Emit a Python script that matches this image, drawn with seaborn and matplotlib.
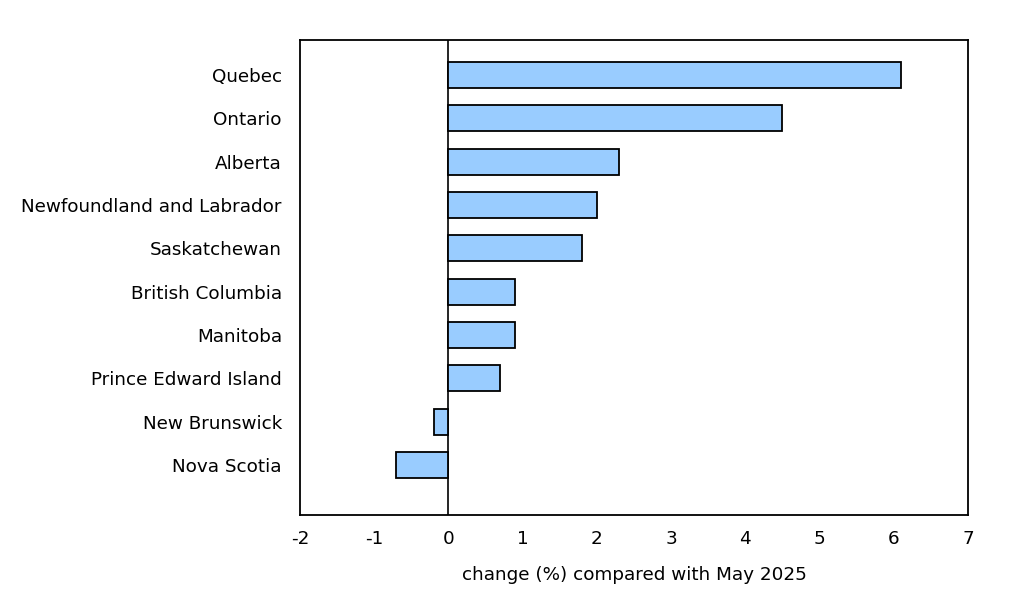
import matplotlib
matplotlib.use("Agg")
import matplotlib.pyplot as plt
import seaborn as sns
import pandas as pd

provinces = ["Quebec", "Ontario", "Alberta", "Newfoundland and Labrador",
             "Saskatchewan", "British Columbia", "Manitoba",
             "Prince Edward Island", "New Brunswick", "Nova Scotia"]
change = [6.1, 4.5, 2.3, 2.0, 1.8, 0.9, 0.9, 0.7, -0.2, -0.7]
x_ticks = [-2, -1, 0, 1, 2, 3, 4, 5, 6, 7]

df = pd.DataFrame({"province": provinces, "change": change})

sns.set_style("white")
plt.rcParams["font.family"] = ["DejaVu Sans"]
plt.rcParams["text.color"] = "black"
plt.rcParams["axes.labelcolor"] = "black"
plt.rcParams["xtick.color"] = "black"
plt.rcParams["ytick.color"] = "black"

fs = 13.2

fig = plt.figure(figsize=(10.26, 5.94), dpi=100)
ax = fig.add_axes([0.2924, 0.133, 0.6511, 0.7997])

sns.barplot(data=df, x="change", y="province", order=provinces,
            color="#99ccff", saturation=1, edgecolor="black",
            linewidth=1.3, width=0.6, ax=ax)

# zero reference line
ax.axvline(0, color="black", lw=1.2, zorder=0.5)
ax.set_xlim(-2, 7)
ax.set_ylim(10.15, -0.81)
ax.set_xticks(x_ticks)
ax.set_xticklabels([str(t) for t in x_ticks])

ax.set_ylabel("")
ax.set_xlabel("change (%) compared with May 2025", fontsize=fs, labelpad=13)

for s in ax.spines.values():
    s.set_visible(True)
    s.set_color("black")
    s.set_linewidth(1.3)

ax.tick_params(axis="x", direction="in", length=6.5, width=1.1,
               labelsize=fs, pad=11)
ax.tick_params(axis="y", length=0, labelsize=fs, pad=13)

fig.savefig("out.png", dpi=100)
